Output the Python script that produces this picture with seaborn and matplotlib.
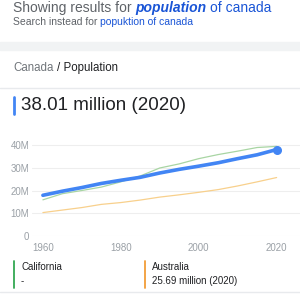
import matplotlib
matplotlib.use("Agg")
import matplotlib.pyplot as plt
import seaborn as sns
import pandas as pd
from matplotlib.patches import Rectangle
from matplotlib.lines import Line2D

years = [1960, 1965, 1970, 1975, 1980, 1985, 1990, 1995, 2000, 2005, 2010, 2015, 2020]
canada = [17.9, 19.7, 21.3, 23.1, 24.5, 25.8, 27.7, 29.3, 30.7, 32.2, 34.0, 35.7, 38.0]
california = [15.9, 18.6, 20.0, 21.5, 23.8, 26.4, 29.9, 31.7, 34.0, 35.8, 37.3, 38.9, 39.4]
australia = [10.3, 11.4, 12.5, 13.9, 14.7, 15.8, 17.1, 18.1, 19.2, 20.4, 22.0, 23.8, 25.7]
y_ticks = [0, 10, 20, 30, 40]
y_labels = ["0", "10M", "20M", "30M", "40M"]
x_ticks = [1960, 1980, 2000, 2020]

sns.set_style("white")
plt.rcParams['font.family'] = ['Liberation Sans', 'DejaVu Sans']

W = H = 300
fig = plt.figure(figsize=(3, 3), dpi=100)

def px(x, y):
    return x / W, 1 - y / H

BLUE = "#4285f4"
LINK = "#1a55d6"
GRAY_T = "#5f6368"
DARK = "#202124"

fig.canvas.draw()
r = fig.canvas.get_renderer()

# Header texts
t = fig.text(*px(13, 8), "Showing results for ", fontsize=10, color=GRAY_T, va="center", ha="left")
bb = t.get_window_extent(r)
t2 = fig.text(bb.x1 / W, bb.y0 / H, "population", fontsize=10, color=LINK, fontweight="bold",
              fontstyle="italic", va="bottom", ha="left")
bb2 = t2.get_window_extent(r)
fig.text(bb2.x1 / W + 0.01, bb.y0 / H, "of canada", fontsize=10, color=LINK, va="bottom", ha="left")

t = fig.text(*px(13, 22), "Search instead for ", fontsize=7.5, color=GRAY_T, va="center", ha="left")
bb = t.get_window_extent(r)
fig.text(bb.x1 / W, bb.y0 / H, "popuktion of canada", fontsize=7.5, color=LINK, va="bottom", ha="left")

# grey band
fig.patches.append(Rectangle(px(0, 50), 1, 8 / H, transform=fig.transFigure, color="#f1f3f4", zorder=0))

t = fig.text(*px(13, 68), "Canada", fontsize=8.3, color="#70757a", va="center", ha="left")
bb = t.get_window_extent(r)
fig.text(bb.x1 / W + 0.012, bb.y0 / H, "/ Population", fontsize=8.3, color=DARK, va="bottom", ha="left")

fig.add_artist(Line2D([0, 1], [1 - 88.5 / H] * 2, transform=fig.transFigure, color="#e8eaed", lw=1))

# big value
fig.add_artist(Line2D([13.5 / W] * 2, [1 - 97 / H, 1 - 114 / H], transform=fig.transFigure, color=BLUE, lw=2))
fig.text(*px(21, 106), "38.01 million (2020)", fontsize=13.5, color=DARK, va="center", ha="left")

# chart
ax = fig.add_axes([32 / W, 1 - 236 / H, 268 / W, 96 / H])
df = pd.DataFrame({
    "year": years * 3,
    "pop": california + australia + canada,
    "region": ["California"] * len(years) + ["Australia"] * len(years) + ["Canada"] * len(years),
})
palette = {"California": "#a8d5a3", "Australia": "#f8d08c", "Canada": BLUE}
sizes = {"California": 0.9, "Australia": 0.9, "Canada": 2.6}
sns.lineplot(data=df, x="year", y="pop", hue="region", size="region", sizes=sizes,
             palette=palette, legend=False, ax=ax)
ax.scatter([years[-1]], [canada[-1]], s=30, color=BLUE, zorder=5)
ax.set_xlim(1957.2, 2026.0)
ax.set_ylim(0, 42.2)
ax.set_yticks(y_ticks)
ax.set_yticklabels(y_labels)
ax.set_xticks(x_ticks)
ax.set_xlabel("")
ax.set_ylabel("")
for s in ax.spines.values():
    s.set_visible(False)
ax.grid(axis="y", color="#eeeeee", lw=0.8)
ax.set_axisbelow(True)
ax.tick_params(axis="both", length=0, labelsize=7, colors="#9aa0a6", pad=2)
ax.tick_params(axis="x", pad=5)

# bottom legend
fig.add_artist(Line2D([13.5 / W] * 2, [1 - 261 / H, 1 - 288 / H], transform=fig.transFigure, color="#34a853", lw=1.3))
fig.text(*px(21, 267), "California", fontsize=7, color=DARK, va="center", ha="left")
fig.text(*px(21, 281), "-", fontsize=7, color=DARK, va="center", ha="left")
fig.add_artist(Line2D([144.5 / W] * 2, [1 - 261 / H, 1 - 288 / H], transform=fig.transFigure, color="#f29d38", lw=1.3))
fig.text(*px(152, 267), "Australia", fontsize=7, color=DARK, va="center", ha="left")
fig.text(*px(152, 281), "25.69 million (2020)", fontsize=7, color=DARK, va="center", ha="left")
fig.add_artist(Line2D([0, 1], [1 - 291.5 / H] * 2, transform=fig.transFigure, color="#e8eaed", lw=1))

fig.savefig("out.png", dpi=100, facecolor="white")
